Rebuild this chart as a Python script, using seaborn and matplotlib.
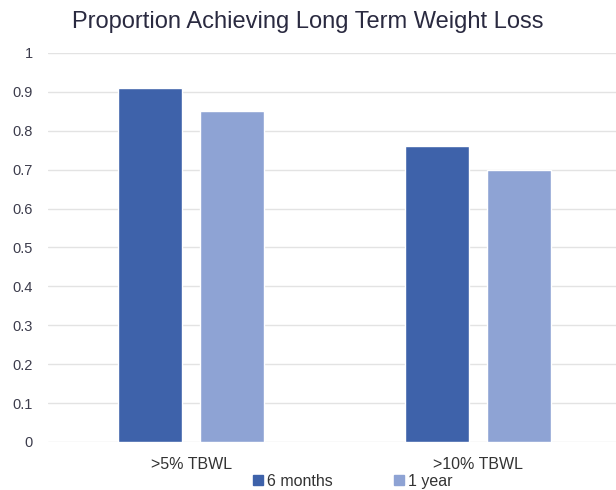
import matplotlib
matplotlib.use("Agg")
import matplotlib.pyplot as plt
import seaborn as sns
import pandas as pd

categories = [">5% TBWL", ">10% TBWL"]
periods = ["6 months", "1 year"]
six_months = [0.91, 0.76]
one_year = [0.85, 0.70]
colors = ["#3E62AA", "#8EA3D4"]

df = pd.DataFrame({
    "category": categories * 2,
    "period": [periods[0]] * 2 + [periods[1]] * 2,
    "value": six_months + one_year,
})

sns.set_style("white")
plt.rcParams["font.family"] = ["Liberation Sans", "DejaVu Sans"]

fig = plt.figure(figsize=(6.16, 4.9), dpi=100)
ax = fig.add_axes([0.078, 0.098, 0.922, 0.794])

sns.barplot(data=df, x="category", y="value", hue="period", hue_order=periods,
            palette=colors, width=0.572, gap=0.22, saturation=1, ax=ax,
            legend=False, errorbar=None)

ax.set_ylim(0, 1)
ax.set_xlim(-0.5, 1.48)
ax.set_yticks([i / 10 for i in range(11)])
ax.set_yticklabels(["0", "0.1", "0.2", "0.3", "0.4", "0.5", "0.6", "0.7", "0.8", "0.9", "1"])
ax.yaxis.grid(True, color="#e3e3e3", linewidth=1)
ax.set_axisbelow(True)
for s in ax.spines.values():
    s.set_visible(False)
ax.tick_params(axis="y", length=0, pad=11, labelsize=10.5, labelcolor="#3c3c4c")
ax.tick_params(axis="x", length=0, pad=11, labelsize=11.5, labelcolor="#333333")
ax.set_xlabel("")
ax.set_ylabel("")

fig.text(0.5, 0.955, "Proportion Achieving Long Term Weight Loss", ha="center",
         va="center", fontsize=17, color="#2a2a40")

handles = [plt.Rectangle((0, 0), 1, 1, color=c) for c in colors]
fig.legend(handles, periods, loc="center", bbox_to_anchor=(0.573, 0.018), ncol=2,
           frameon=False, fontsize=11.5, handlelength=0.6, handleheight=0.6,
           handletextpad=0.3, columnspacing=3.8, labelcolor="#333333")

fig.savefig("out.png", dpi=100)
